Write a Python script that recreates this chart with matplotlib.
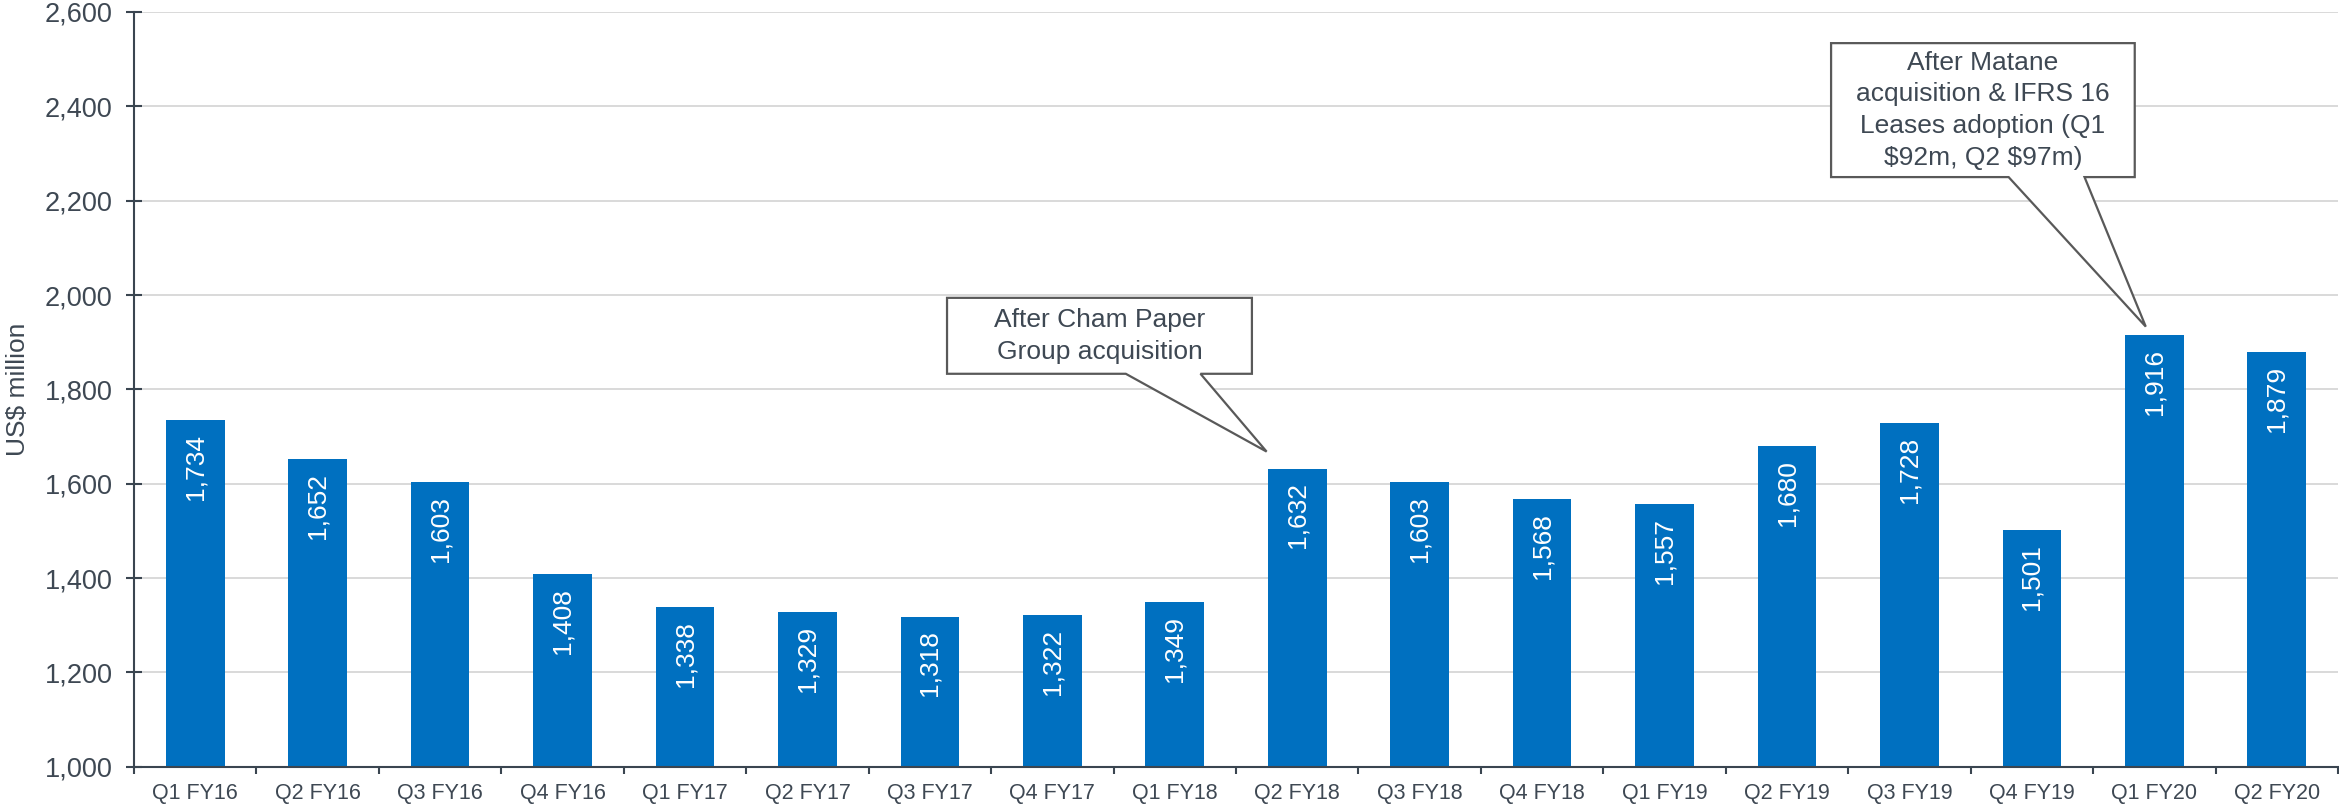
import matplotlib
matplotlib.use("Agg")
import matplotlib.pyplot as plt
from matplotlib.patches import Polygon
from matplotlib.ticker import FuncFormatter, MultipleLocator
import numpy as np

plt.rcParams["font.family"] = ["Liberation Sans", "DejaVu Sans"]
plt.rcParams["text.parse_math"] = False

# Net debt by quarter (US$ million)
quarters = ["Q1 FY16", "Q2 FY16", "Q3 FY16", "Q4 FY16", "Q1 FY17", "Q2 FY17",
            "Q3 FY17", "Q4 FY17", "Q1 FY18", "Q2 FY18", "Q3 FY18", "Q4 FY18",
            "Q1 FY19", "Q2 FY19", "Q3 FY19", "Q4 FY19", "Q1 FY20", "Q2 FY20"]
net_debt = [1734, 1652, 1603, 1408, 1338, 1329, 1318, 1322, 1349,
            1632, 1603, 1568, 1557, 1680, 1728, 1501, 1916, 1879]

y_min, y_max, y_step = 1000, 2600, 200

# Callout notes: (quarter they point at, text)
note_quarters = ["Q2 FY18", "Q1 FY20"]
note_texts = ["After Cham Paper\nGroup acquisition",
              "After Matane\nacquisition & IFRS 16\nLeases adoption (Q1\n$92m, Q2 $97m)"]

BAR_COLOR = "#0070C0"
TEXT_COLOR = "#3E4853"
AXIS_COLOR = "#3A4550"
GRID_COLOR = "#D9D9D9"

W, H, DPI = 2339, 806, 100
fig = plt.figure(figsize=(W / DPI, H / DPI), dpi=DPI)
ax = fig.add_axes([134 / W, 39.3 / H, (2338 - 134) / W, (794 - 39.3) / H])

x = np.arange(len(quarters))
bar_w = 0.48
ax.bar(x, net_debt, width=bar_w, bottom=0, color=BAR_COLOR, zorder=2)

for xi, v in zip(x, net_debt):
    ax.annotate(f"{v:,}", xy=(xi, v), xytext=(0, -10), textcoords="offset points",
                rotation=90, ha="center", va="top", color="white", fontsize=19,
                zorder=3)

ax.set_xlim(-0.5, len(quarters) - 0.5)
ax.set_ylim(y_min, y_max)
ax.yaxis.set_major_locator(MultipleLocator(y_step))
ax.yaxis.set_major_formatter(FuncFormatter(lambda v, p: f"{int(v):,}"))
ax.grid(axis="y", color=GRID_COLOR, linewidth=1.4, zorder=0)
ax.set_axisbelow(True)

ax.set_xticks(x)
ax.set_xticklabels(quarters)
ax.set_xticks(np.arange(len(quarters) + 1) - 0.5, minor=True)
ax.tick_params(axis="x", which="major", length=0, pad=12, labelsize=15.5,
               labelcolor=TEXT_COLOR)
ax.tick_params(axis="x", which="minor", direction="out", length=5, width=1.5,
               color=AXIS_COLOR)
ax.tick_params(axis="y", direction="inout", length=11, width=1.5, color=AXIS_COLOR,
               labelsize=19.5, labelcolor=TEXT_COLOR, pad=10)

for side in ("top", "right"):
    ax.spines[side].set_visible(False)
for side in ("left", "bottom"):
    ax.spines[side].set_color(AXIS_COLOR)
    ax.spines[side].set_linewidth(1.5)

ax.set_ylabel("US$ million", fontsize=19, color=TEXT_COLOR)
ax.yaxis.set_label_coords(-(134 - 30) / (2338 - 134), 0.5)

# Speech-bubble callouts: box extents (x0, x1, y_bottom, y_top), tail base span,
# tip offset from the bar's left edge and lift above the bar top
boxes = [(6.14, 8.63, 1833, 1994, 7.60, 8.21, -0.01, 36),
         (13.36, 15.84, 2250, 2534, 14.81, 15.43, 0.17, 17)]
for q, text, (bx0, bx1, by0, by1, ta, tb, dx, lift) in zip(note_quarters, note_texts, boxes):
    i = quarters.index(q)
    tip = (i - bar_w / 2 + dx, net_debt[i] + lift)
    verts = [(bx0, by1), (bx1, by1), (bx1, by0), (tb, by0), tip, (ta, by0), (bx0, by0)]
    ax.add_patch(Polygon(verts, closed=True, facecolor="white", edgecolor="#595959",
                         linewidth=1.6, zorder=4, joinstyle="miter"))
    ax.text((bx0 + bx1) / 2, (by0 + by1) / 2, text, ha="center", va="center",
            fontsize=19, color=TEXT_COLOR, linespacing=1.4, zorder=5)

fig.savefig("out.png", dpi=DPI)
